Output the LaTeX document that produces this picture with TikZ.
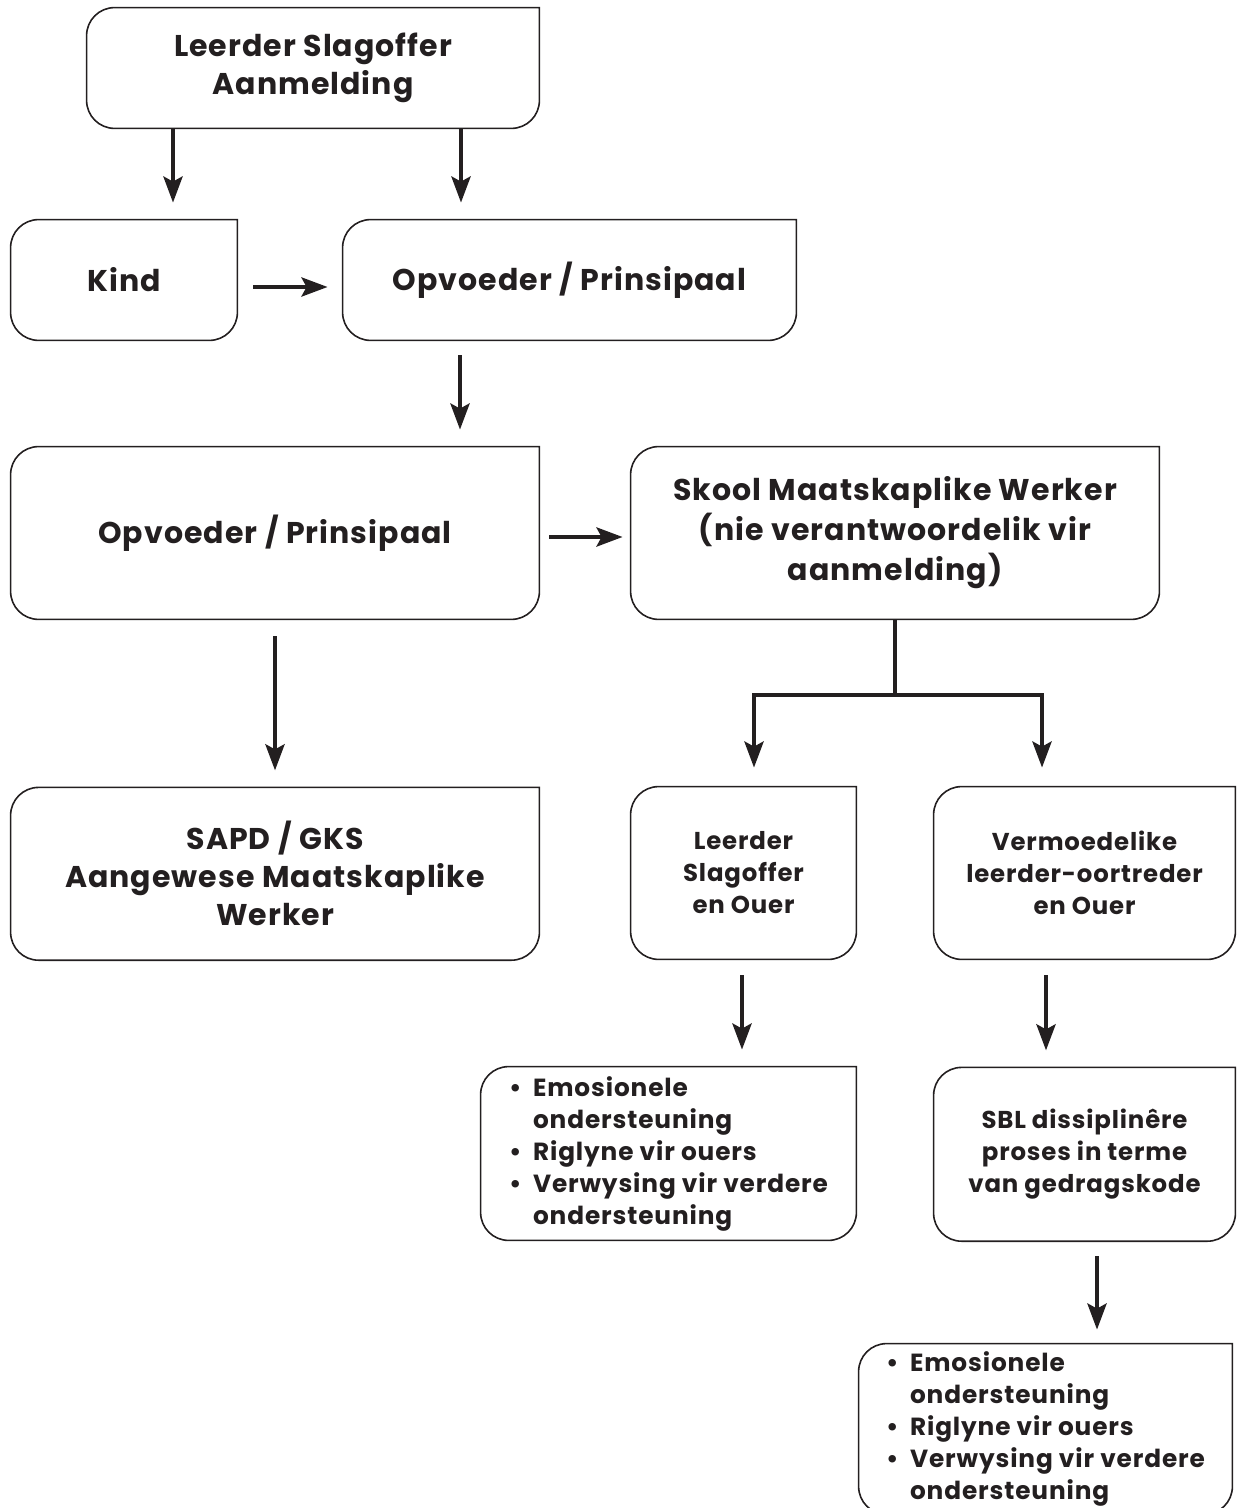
\documentclass[tikz,border=0pt]{standalone}
\usepackage{fontspec}
\setmainfont{Poppins}[LetterSpace=3.5]
\usetikzlibrary{arrows.meta,positioning}
\definecolor{ink}{RGB}{35,31,32}
\tikzstyle{box} = [draw=none, text=ink, align=center, inner sep=0pt, font=\bfseries\fontsize{15}{19}\selectfont]
\tikzstyle{smallbox} = [box, font=\bfseries\fontsize{12.2}{16}\selectfont]
\tikzstyle{listbox} = [box, align=left, font=\bfseries\fontsize{12.4}{16}\selectfont]
\tikzstyle{tline} = [draw=ink, line width=2.2pt]
\tikzstyle{tedge} = [tline, -{Stealth[length=13pt, width=9.5pt, inset=2.5pt]}, shorten <=8pt, shorten >=8.5pt]
\newcommand{\boxedge}[1]{%
  \draw[ink, line width=0.8pt] (#1.north east) -- ([xshift=14pt]#1.north west)
    arc[start angle=90, end angle=180, radius=14pt] -- ([yshift=14pt]#1.south west)
    arc[start angle=180, end angle=270, radius=14pt] -- ([xshift=-14pt]#1.south east)
    arc[start angle=270, end angle=360, radius=14pt] -- cycle;}
\newcommand{\bul}{\makebox[12pt][l]{•}}
\newcommand{\bin}{\hspace*{12pt}}

\begin{document}
\begin{tikzpicture}[x=0.5pt, y=0.5pt]
\useasboundingbox (0,0) rectangle (1236,-1508);

% boxes =============================
\node[box, minimum width=226pt, minimum height=60pt] (aanmelding) at (313,-68) {Leerder Slagoffer\\Aanmelding};
\node[box, minimum width=113pt, minimum height=60pt] (kind) at (124,-280) {Kind};
\node[box, minimum width=226.5pt, minimum height=60pt] (opv1) at (569.5,-280) {Opvoeder / Prinsipaal};
\node[box, minimum width=264pt, minimum height=86pt] (opv2) at (275,-533) {Opvoeder / Prinsipaal};
\node[box, font=\bfseries\fontsize{15}{20}\selectfont, minimum width=264pt, minimum height=86pt] (skool) at (895,-533) {Skool Maatskaplike Werker\\(nie verantwoordelik vir\\aanmelding)};
\node[box, minimum width=264pt, minimum height=86pt, below=84pt of opv2] (sapd) {SAPD / GKS\\Aangewese Maatskaplike\\Werker};
\node[smallbox, minimum width=112.5pt, minimum height=86pt] (slagoffer) at (743.5,-873) {Leerder\\Slagoffer\\en Ouer};
\node[smallbox, minimum width=150.5pt, minimum height=86pt] (oortreder) at (1084.5,-873) {Vermoedelike\\leerder-oortreder\\en Ouer};
\node[listbox, minimum width=187.5pt, minimum height=86.5pt] (steun1) at (668.5,-1153.5) {\bul Emosionele\\\bin ondersteuning\\\bul Riglyne vir ouers\\\bul Verwysing vir verdere\\\bin ondersteuning};
\node[smallbox, minimum width=150.5pt, minimum height=86.5pt, below=54pt of oortreder] (sbl) {SBL dissiplinêre\\proses in terme\\van gedragskode};
\node[listbox, minimum width=186.5pt, minimum height=85pt] (steun2) at (1045.5,-1429) {\bul Emosionele\\\bin ondersteuning\\\bul Riglyne vir ouers\\\bul Verwysing vir verdere\\\bin ondersteuning};

\foreach \n in {aanmelding,kind,opv1,opv2,skool,sapd,slagoffer,oortreder,steun1,sbl,steun2}
  \boxedge{\n};

% arrow lanes
\coordinate (k1) at (173,0);
\coordinate (k2) at (461,0);
\coordinate (k3) at (0,-287);
\coordinate (k4) at (460,0);
\coordinate (k5) at (0,-537);
\coordinate (fork) at (895,-695);
\coordinate (b1) at (754,0);
\coordinate (b2) at (1042,0);
\coordinate (b3) at (742,0);
\coordinate (b4) at (1046,0);
\coordinate (b5) at (1097,0);

% edges
\draw[tedge, shorten <=0pt] (aanmelding.south -| k1) -- (kind.north -| k1);
\draw[tedge, shorten <=0pt] (aanmelding.south -| k2) -- (opv1.north -| k2);
\draw[tedge, shorten >=7.5pt] (kind.east |- k3) -- (opv1.west |- k3);
\draw[tedge, shorten <=7.5pt] (opv1.south -| k4) -- (opv2.north -| k4);
\draw[tedge, shorten <=5pt, shorten >=4pt] (opv2.east |- k5) -- (skool.west |- k5);
\draw[tedge, shorten <=8.5pt] (opv2) -- (sapd);
\draw[tedge, shorten <=0pt, shorten >=9.5pt] (skool.south) -- (fork) -| (slagoffer.north -| b1);
\draw[tedge, shorten <=0pt, shorten >=9.5pt] (skool.south) -- (fork) -| (oortreder.north -| b2);
\draw[tedge] (slagoffer.south -| b3) -- (steun1.north -| b3);
\draw[tedge] (oortreder.south -| b4) -- (sbl.north -| b4);
\draw[tedge, shorten <=7.5pt, shorten >=7pt] (sbl.south -| b5) -- (steun2.north -| b5);

\end{tikzpicture}
\end{document}
